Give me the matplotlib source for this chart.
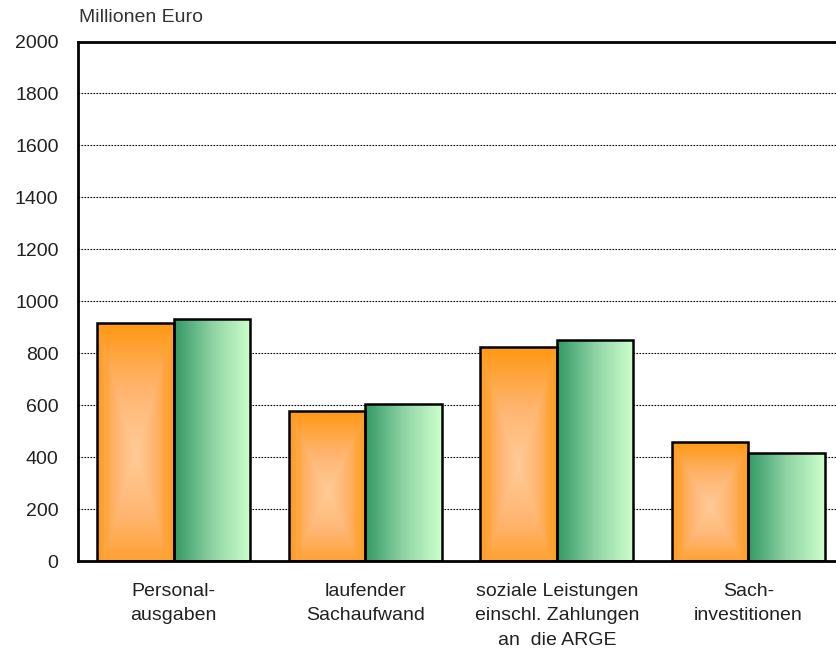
import numpy as np
import matplotlib.pyplot as plt
from matplotlib.colors import LinearSegmentedColormap

categories = ['Personal-\nausgaben', 'laufender\nSachaufwand',
              'soziale Leistungen\neinschl. Zahlungen\nan  die ARGE',
              'Sach-\ninvestitionen']
werte_a = [918, 578, 823, 460]   # orange
werte_b = [932, 606, 850, 415]   # grün
y_ticks = list(range(0, 2001, 200))

plt.rcParams['font.family'] = ['Liberation Sans', 'DejaVu Sans']

fig = plt.figure(figsize=(8.37, 6.52), dpi=100)
ax = fig.add_axes([78 / 837, 91 / 652, 766 / 837, 519.5 / 652])

orange = LinearSegmentedColormap.from_list('o', ['#ffcc99', '#ffb570', '#ff9a1a'])
gruen = LinearSegmentedColormap.from_list('g', ['#339966', '#8fd3a3', '#ccffcc'])

# rechteckiger Verlauf von der Mitte aus
yy, xx = np.mgrid[-1:1:200j, -1:1:100j]
rect_grad = np.maximum(np.abs(xx) * 1.0, np.abs(yy - 0.1) * 0.95)
lin_grad = np.tile(np.linspace(0, 1, 100), (2, 1))

x = np.arange(len(categories))
w = 0.4
bars_a = ax.bar(x - w / 2, werte_a, w, facecolor='none', edgecolor='black', linewidth=1.8, zorder=3)
bars_b = ax.bar(x + w / 2, werte_b, w, facecolor='none', edgecolor='black', linewidth=1.8, zorder=3)

for bar in bars_a:
    x0, y0 = bar.get_x(), bar.get_y()
    im = ax.imshow(rect_grad, cmap=orange, vmin=0, vmax=1, aspect='auto',
                   extent=[x0, x0 + bar.get_width(), y0, y0 + bar.get_height()],
                   zorder=2, interpolation='bilinear')
    im.set_clip_path(bar)
for bar in bars_b:
    x0, y0 = bar.get_x(), bar.get_y()
    im = ax.imshow(lin_grad, cmap=gruen, vmin=0, vmax=1, aspect='auto',
                   extent=[x0, x0 + bar.get_width(), y0, y0 + bar.get_height()],
                   zorder=2, interpolation='bilinear')
    im.set_clip_path(bar)

ax.set_xlim(-0.5, 3.5)
ax.set_ylim(0, 2000)
ax.set_yticks(y_ticks)
ax.set_xticks(x)
ax.set_xticklabels(categories, fontsize=14, color='#222222', linespacing=1.55)
ax.tick_params(axis='both', length=0, labelsize=14, colors='#222222')
ax.tick_params(axis='x', pad=16)
ax.tick_params(axis='y', pad=14)
ax.yaxis.grid(True, linestyle=(0, (1.5, 1.2)), color='black', linewidth=0.8, zorder=1)
ax.set_axisbelow(True)
for s in ax.spines.values():
    s.set_linewidth(2)
    s.set_color('black')

fig.text(79 / 837, 1 - 18 / 652, 'Millionen Euro', fontsize=14, color='#333333', va='center', ha='left')

fig.savefig('out.png', dpi=100)
